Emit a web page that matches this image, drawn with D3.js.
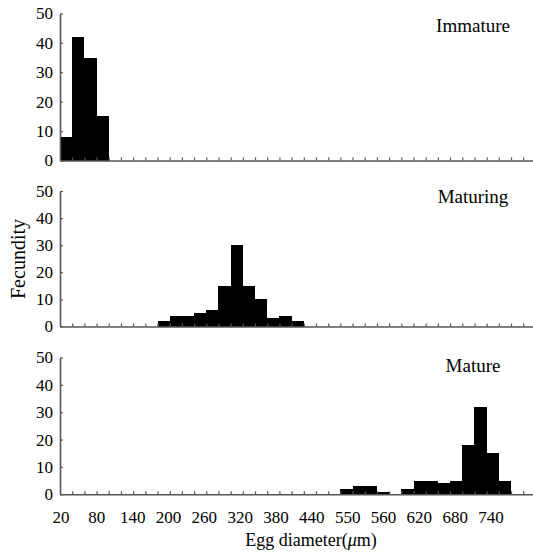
<!DOCTYPE html>
<html>
<head>
<meta charset="utf-8">
<script src="https://cdn.jsdelivr.net/npm/d3@7/dist/d3.min.js"></script>
<style>
  body { margin: 0; background: #fff; }
  svg { display: block; font-family: "Liberation Serif", "Times New Roman", serif; }
</style>
</head>
<body>
<svg id="chart" width="533" height="560"></svg>
<script>
// bin starts (um, bin width 20) and fecundity counts
var immatureBins = [20, 40, 60, 80];
var immatureCounts = [8, 42, 35, 15];

var maturingBins = [180, 200, 220, 240, 260, 280, 300, 320, 340, 360, 380, 400];
var maturingCounts = [2, 4, 4, 5, 6, 15, 30, 15, 10, 3, 4, 2];

var matureBins = [480, 500, 520, 540, 560, 580, 600, 620, 640, 660, 680, 700, 720, 740];
var matureCounts = [2, 3, 3, 1, 0, 2, 5, 5, 4, 5, 18, 32, 15, 5];

var stageNames = ["Immature", "Maturing", "Mature"];
var yTicks = [0, 10, 20, 30, 40, 50];
// labels as printed on the original figure (incl. its "550")
var xTickLabels = ["20", "80", "140", "200", "260", "320", "380", "440", "550", "560", "620", "680", "740"];

var binWidth = 20;

// layout of the three stacked panels
var panels = [
  {bins: immatureBins, counts: immatureCounts, top: 13.5, bottom: 160.5, labelY: 31.5},
  {bins: maturingBins, counts: maturingCounts, top: 191, bottom: 326.5, labelY: 203},
  {bins: matureBins, counts: matureCounts, top: 357.5, bottom: 494.3, labelY: 372}
];

var svg = d3.select("#chart");
var axisColor = "#555";

var x = d3.scaleLinear().domain([20, 800]).range([60, 60 + 39 * 12.19]);
var xLabelPos = d3.scalePoint().domain(xTickLabels).range([61, 491]);

panels.forEach(function(p, i) {
  var y = d3.scaleLinear().domain([0, 50]).range([p.bottom, p.top]);
  var g = svg.append("g");

  g.selectAll("rect")
    .data(p.bins.map(function(b, k) { return {start: b, n: p.counts[k]}; }))
    .enter().append("rect")
    .attr("x", function(d) { return Math.round(x(d.start)); })
    .attr("width", function(d) { return Math.round(x(d.start + binWidth)) - Math.round(x(d.start)); })
    .attr("y", function(d) { return Math.round(y(d.n)); })
    .attr("height", function(d) { return Math.round(y(0)) - Math.round(y(d.n)); })
    .attr("fill", "#000")
    .attr("shape-rendering", "crispEdges");

  var xAxis = g.append("g")
    .attr("transform", "translate(0," + y(0) + ")")
    .call(d3.axisBottom(x)
      .tickValues(d3.range(40, 800, 20))
      .tickSizeInner(-3)
      .tickSizeOuter(0)
      .tickFormat(""));
  xAxis.select(".domain").attr("stroke", axisColor).attr("stroke-width", 1.6);
  xAxis.selectAll(".tick line").attr("stroke", axisColor).attr("stroke-width", 1.2);

  var yAxis = g.append("g")
    .attr("transform", "translate(60,0)")
    .call(d3.axisLeft(y)
      .tickValues(yTicks)
      .tickSizeInner(-3)
      .tickSizeOuter(0)
      .tickPadding(7));
  yAxis.select(".domain").attr("stroke", axisColor).attr("stroke-width", 1.6);
  yAxis.selectAll(".tick line").attr("stroke", axisColor).attr("stroke-width", 1.2);
  yAxis.selectAll(".tick text")
    .attr("fill", "#000")
    .style("font-size", "17px")
    .style("font-family", "'Liberation Serif', 'Times New Roman', serif");

  g.append("text")
    .attr("x", 473)
    .attr("y", p.labelY)
    .attr("text-anchor", "middle")
    .style("font-size", "19px")
    .text(stageNames[i]);
});

svg.append("g").selectAll("text")
  .data(xTickLabels)
  .enter().append("text")
  .attr("x", function(d) { return xLabelPos(d); })
  .attr("y", 523)
  .attr("text-anchor", "middle")
  .style("font-size", "17px")
  .text(function(d) { return d; });

var title = svg.append("text")
  .attr("x", 311)
  .attr("y", 546)
  .attr("text-anchor", "middle")
  .style("font-size", "18px");
title.append("tspan").text("Egg diameter(");
title.append("tspan").style("font-style", "italic").text("\u03bc");
title.append("tspan").text("m)");

svg.append("text")
  .attr("transform", "translate(25,259) rotate(-90)")
  .attr("text-anchor", "middle")
  .style("font-size", "20px")
  .text("Fecundity");
</script>
</body>
</html>
